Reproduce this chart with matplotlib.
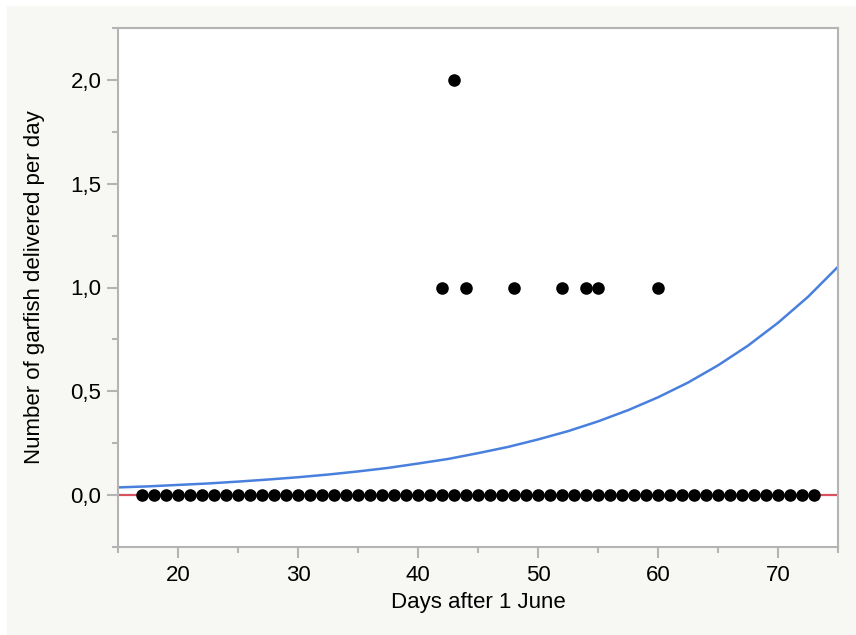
"""
Garfish deliveries per day vs days after 1 June, with fitted mean curve.
"""

import matplotlib
matplotlib.use("Agg")
import matplotlib.pyplot as plt
from matplotlib.patches import Rectangle
from matplotlib.ticker import FuncFormatter, MultipleLocator

plt.rcParams['font.family'] = ['Liberation Sans', 'DejaVu Sans']

# ── Data ──────────────────────────────────────────────────────────────────────
zero_days = [17, 18, 19, 20, 21, 22, 23, 24, 25, 26, 27, 28, 29, 30, 31, 32,
             33, 34, 35, 36, 37, 38, 39, 40, 41, 42, 43, 44, 45, 46, 47, 48,
             49, 50, 51, 52, 53, 54, 55, 56, 57, 58, 59, 60, 61, 62, 63, 64,
             65, 66, 67, 68, 69, 70, 71, 72, 73]
zero_counts = [0] * len(zero_days)

catch_days = [42, 43, 44, 48, 52, 54, 55, 60]
catch_counts = [1, 2, 1, 1, 1, 1, 1, 1]

# fitted mean
fit_days = [15, 17.5, 20, 22.5, 25, 27.5, 30, 32.5, 35, 37.5, 40, 42.5, 45,
            47.5, 50, 52.5, 55, 57.5, 60, 62.5, 65, 67.5, 70, 72.5, 75]
fit_mean = [0.037, 0.042, 0.049, 0.056, 0.065, 0.075, 0.086, 0.099, 0.114,
            0.131, 0.152, 0.174, 0.202, 0.232, 0.268, 0.308, 0.355, 0.409,
            0.471, 0.542, 0.625, 0.720, 0.830, 0.955, 1.100]

# ── Colours ───────────────────────────────────────────────────────────────────
PANEL = '#f7f7f3'
FRAME = '#b4b4b4'
BLUE = '#4a80dd'
RED = '#d9505e'

fig = plt.figure(figsize=(8.56, 6.35), dpi=100)
fig.patch.set_facecolor('white')
fig.patches.append(Rectangle((7 / 856, 0), 1, 1 - 6 / 635,
                             transform=fig.transFigure, facecolor=PANEL,
                             edgecolor='none', zorder=-10))

ax = fig.add_axes([118 / 856, 88 / 635, 720 / 856, 519 / 635])
ax.set_facecolor('white')

ax.axhline(0, color=RED, lw=1.6, zorder=1)
ax.plot(fit_days, fit_mean, color=BLUE, lw=1.8, zorder=2)
ax.scatter(zero_days, zero_counts, s=82, color='black', zorder=3, linewidths=0)
ax.scatter(catch_days, catch_counts, s=82, color='black', zorder=3, linewidths=0)

ax.set_xlim(15, 75)
ax.set_ylim(-0.25, 2.25)

ax.xaxis.set_major_locator(MultipleLocator(10))
ax.xaxis.set_minor_locator(MultipleLocator(5))
ax.yaxis.set_major_locator(MultipleLocator(0.5))
ax.yaxis.set_minor_locator(MultipleLocator(0.25))
ax.yaxis.set_major_formatter(FuncFormatter(lambda v, p: f"{v:.1f}".replace('.', ',')))

for s in ax.spines.values():
    s.set_color(FRAME)
    s.set_linewidth(1.5)

ax.tick_params(which='major', length=8, width=1.5, color=FRAME,
               labelsize=16, pad=5)
ax.tick_params(which='minor', length=4, width=1.5, color=FRAME)
ax.tick_params(axis='y', which='major', pad=4)

ax.set_xlabel("Days after 1 June", fontsize=16, labelpad=4)
ax.set_ylabel("Number of garfish delivered per day", fontsize=16, labelpad=18)

fig.savefig("out.png", dpi=100, facecolor=fig.get_facecolor())
